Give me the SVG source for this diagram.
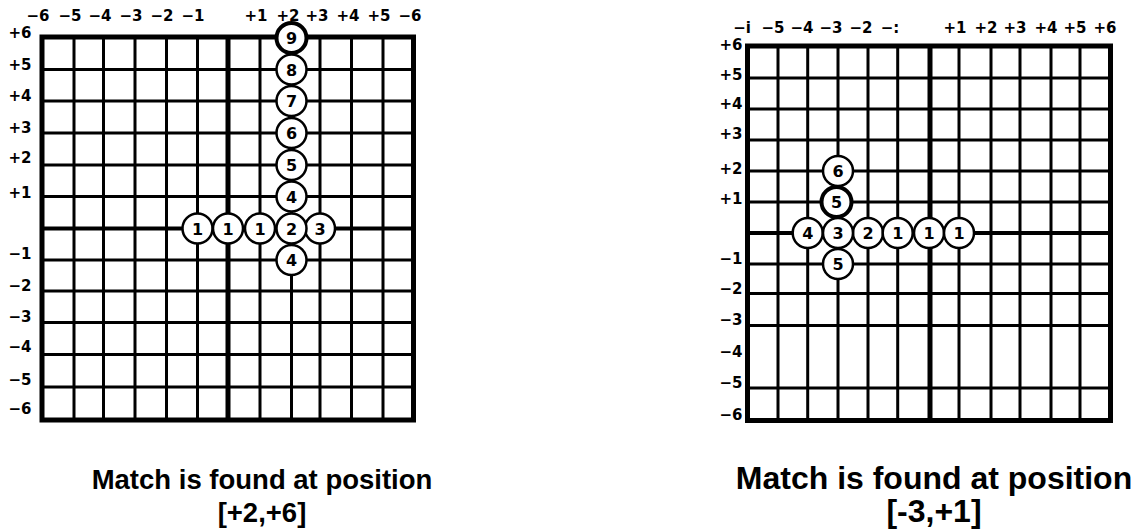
<svg xmlns="http://www.w3.org/2000/svg" width="1134" height="530" viewBox="0 0 1134 530">
<style>
.bg{fill:#fff}
.border{fill:none;stroke:#000;stroke-width:5}
.ln{stroke:#000;stroke-width:3;fill:none}
.axis{stroke:#000;stroke-width:5;fill:none}
.lbl{font-family:"DejaVu Sans","Liberation Sans",sans-serif;font-weight:bold;font-size:15px;fill:#000;text-anchor:middle}
.c{fill:#fff;stroke:#000;stroke-width:2.5}
.ct{fill:#fff;stroke:#000;stroke-width:4}
.ctxt{font-family:"DejaVu Sans","Liberation Sans",sans-serif;font-weight:bold;font-size:16px;fill:#000;text-anchor:middle}
.cap{font-family:"Liberation Sans",Arial,sans-serif;font-weight:bold;fill:#000;text-anchor:middle}
</style>
<rect class="bg" x="0" y="0" width="1134" height="530"/>

<g id="grid-left">
  <g class="ln">
    <line x1="74" y1="37" x2="74" y2="420"/>
    <line x1="103.5" y1="37" x2="103.5" y2="420"/>
    <line x1="135" y1="37" x2="135" y2="420"/>
    <line x1="166.5" y1="37" x2="166.5" y2="420"/>
    <line x1="197.5" y1="37" x2="197.5" y2="420"/>
    <line x1="260" y1="37" x2="260" y2="420"/>
    <line x1="291.5" y1="37" x2="291.5" y2="420"/>
    <line x1="320" y1="37" x2="320" y2="420"/>
    <line x1="351.5" y1="37" x2="351.5" y2="420"/>
    <line x1="383" y1="37" x2="383" y2="420"/>
    <line x1="42" y1="69.5" x2="413.5" y2="69.5"/>
    <line x1="42" y1="101" x2="413.5" y2="101"/>
    <line x1="42" y1="133" x2="413.5" y2="133"/>
    <line x1="42" y1="165" x2="413.5" y2="165"/>
    <line x1="42" y1="196.5" x2="413.5" y2="196.5"/>
    <line x1="42" y1="260" x2="413.5" y2="260"/>
    <line x1="42" y1="291" x2="413.5" y2="291"/>
    <line x1="42" y1="322.5" x2="413.5" y2="322.5"/>
    <line x1="42" y1="354.5" x2="413.5" y2="354.5"/>
    <line x1="42" y1="387" x2="413.5" y2="387"/>
  </g>
  <line class="axis" x1="228" y1="37" x2="228" y2="420"/>
  <line class="axis" x1="42" y1="228.5" x2="413.5" y2="228.5" style="stroke-width:4"/>
  <rect class="border" x="42" y="37" width="371.5" height="383"/>
  <g class="lbl">
    <text x="38" y="21">−6</text>
    <text x="70" y="21">−5</text>
    <text x="100" y="21">−4</text>
    <text x="131" y="21">−3</text>
    <text x="162" y="21">−2</text>
    <text x="193" y="21">−1</text>
    <text x="256" y="21">+1</text>
    <text x="288" y="21">+2</text>
    <text x="317" y="21">+3</text>
    <text x="348" y="21">+4</text>
    <text x="379" y="21">+5</text>
    <text x="410" y="21">−6</text>
    <text x="20" y="38">+6</text>
    <text x="20" y="70">+5</text>
    <text x="20" y="101">+4</text>
    <text x="20" y="133">+3</text>
    <text x="20" y="163">+2</text>
    <text x="20" y="198">+1</text>
    <text x="20" y="259">−1</text>
    <text x="20" y="291">−2</text>
    <text x="20" y="322">−3</text>
    <text x="20" y="352">−4</text>
    <text x="20" y="385">−5</text>
    <text x="20" y="414">−6</text>
  </g>
</g>

<g id="grid-right">
  <g class="ln">
    <line x1="778" y1="46" x2="778" y2="420.5"/>
    <line x1="807.7" y1="46" x2="807.7" y2="420.5"/>
    <line x1="838" y1="46" x2="838" y2="420.5"/>
    <line x1="868" y1="46" x2="868" y2="420.5"/>
    <line x1="897.7" y1="46" x2="897.7" y2="420.5"/>
    <line x1="959" y1="46" x2="959" y2="420.5"/>
    <line x1="991" y1="46" x2="991" y2="420.5"/>
    <line x1="1020" y1="46" x2="1020" y2="420.5"/>
    <line x1="1051" y1="46" x2="1051" y2="420.5"/>
    <line x1="1080" y1="46" x2="1080" y2="420.5"/>
    <line x1="747.5" y1="78" x2="1110.5" y2="78"/>
    <line x1="747.5" y1="109" x2="1110.5" y2="109"/>
    <line x1="747.5" y1="140" x2="1110.5" y2="140"/>
    <line x1="747.5" y1="171" x2="1110.5" y2="171"/>
    <line x1="747.5" y1="202" x2="1110.5" y2="202"/>
    <line x1="747.5" y1="264" x2="1110.5" y2="264"/>
    <line x1="747.5" y1="293.5" x2="1110.5" y2="293.5"/>
    <line x1="747.5" y1="325.5" x2="1110.5" y2="325.5"/>
    <line x1="747.5" y1="388" x2="1110.5" y2="388"/>
  </g>
  <line class="axis" x1="930" y1="46" x2="930" y2="420.5"/>
  <line class="axis" x1="747.5" y1="233" x2="1110.5" y2="233" style="stroke-width:4"/>
  <rect class="border" x="747.5" y="46" width="363" height="374.5"/>
  <g class="lbl">
    <text x="742" y="33">−i</text>
    <text x="773" y="33">−5</text>
    <text x="802" y="33">−4</text>
    <text x="831" y="33">−3</text>
    <text x="861" y="33">−2</text>
    <text x="890" y="33">−:</text>
    <text x="955" y="33">+1</text>
    <text x="986" y="33">+2</text>
    <text x="1015" y="33">+3</text>
    <text x="1046" y="33">+4</text>
    <text x="1075" y="33">+5</text>
    <text x="1105" y="33">+6</text>
    <text x="731" y="50">+6</text>
    <text x="731" y="80">+5</text>
    <text x="731" y="109">+4</text>
    <text x="731" y="139">+3</text>
    <text x="731" y="174">+2</text>
    <text x="731" y="204">+1</text>
    <text x="731" y="264">−1</text>
    <text x="731" y="294">−2</text>
    <text x="731" y="325">−3</text>
    <text x="731" y="357">−4</text>
    <text x="731" y="388">−5</text>
    <text x="731" y="420">−6</text>
  </g>
</g>

<g id="L9"><circle class="ct" cx="291.5" cy="38" r="15"/><text class="ctxt" x="291.5" y="44">9</text></g>
<g id="L8"><circle class="c" cx="291.5" cy="69.5" r="15"/><text class="ctxt" x="291.5" y="75.5">8</text></g>
<g id="L7"><circle class="c" cx="291.5" cy="101" r="15"/><text class="ctxt" x="291.5" y="107">7</text></g>
<g id="L6"><circle class="c" cx="291.5" cy="133" r="15"/><text class="ctxt" x="291.5" y="139">6</text></g>
<g id="L5"><circle class="c" cx="291.5" cy="165" r="15"/><text class="ctxt" x="291.5" y="171">5</text></g>
<g id="L4a"><circle class="c" cx="291.5" cy="196.5" r="15"/><text class="ctxt" x="291.5" y="202.5">4</text></g>
<g id="L1a"><circle class="c" cx="197.5" cy="228.5" r="15"/><text class="ctxt" x="197.5" y="234.5">1</text></g>
<g id="L1b"><circle class="c" cx="228" cy="228.5" r="15"/><text class="ctxt" x="228" y="234.5">1</text></g>
<g id="L1c"><circle class="c" cx="260" cy="228.5" r="15"/><text class="ctxt" x="260" y="234.5">1</text></g>
<g id="L3"><circle class="c" cx="320" cy="228.5" r="15"/><text class="ctxt" x="320" y="234.5">3</text></g>
<g id="L2"><circle class="c" cx="291.5" cy="228.5" r="15"/><text class="ctxt" x="291.5" y="234.5">2</text></g>
<g id="L4b"><circle class="c" cx="291.5" cy="260" r="15"/><text class="ctxt" x="291.5" y="266">4</text></g>

<g id="R6"><circle class="c" cx="838" cy="171" r="15"/><text class="ctxt" x="838" y="177">6</text></g>
<g id="R5a"><circle class="ct" cx="836.5" cy="202" r="15"/><text class="ctxt" x="836.5" y="208">5</text></g>
<g id="R4"><circle class="c" cx="807.7" cy="233" r="15"/><text class="ctxt" x="807.7" y="239">4</text></g>
<g id="R2"><circle class="c" cx="868" cy="233" r="15"/><text class="ctxt" x="868" y="239">2</text></g>
<g id="R3"><circle class="c" cx="838" cy="233" r="15"/><text class="ctxt" x="838" y="239">3</text></g>
<g id="R1a"><circle class="c" cx="897.7" cy="233" r="15"/><text class="ctxt" x="897.7" y="239">1</text></g>
<g id="R1b"><circle class="c" cx="929" cy="233" r="15"/><text class="ctxt" x="929" y="239">1</text></g>
<g id="R1c"><circle class="c" cx="959" cy="233" r="15"/><text class="ctxt" x="959" y="239">1</text></g>
<g id="R5b"><circle class="c" cx="838" cy="264" r="15"/><text class="ctxt" x="838" y="270">5</text></g>

<g id="caption-left">
  <text class="cap" x="262" y="489" font-size="27.5">Match is found at position</text>
  <text class="cap" x="262" y="522" font-size="27.5">[+2,+6]</text>
</g>
<g id="caption-right">
  <text class="cap" x="934" y="489" font-size="32">Match is found at position</text>
  <text class="cap" x="934" y="522" font-size="32">[-3,+1]</text>
</g>
</svg>
